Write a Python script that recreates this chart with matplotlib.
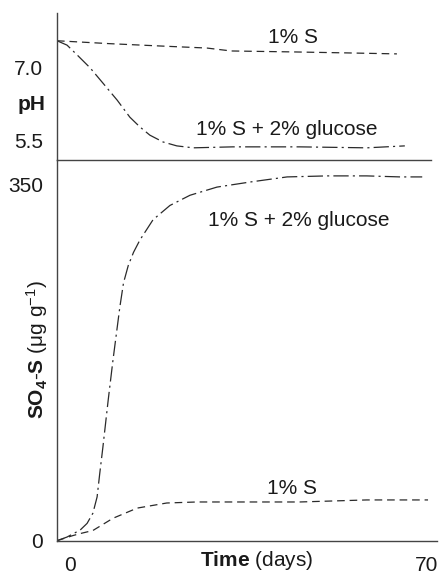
import matplotlib.pyplot as plt
import matplotlib.transforms as mtransforms

plt.rcParams['font.family'] = ['Liberation Sans', 'DejaVu Sans']
plt.rcParams['mathtext.fontset'] = 'custom'
plt.rcParams['mathtext.rm'] = 'Liberation Sans'
plt.rcParams['mathtext.bf'] = 'Liberation Sans:bold'
plt.rcParams['mathtext.it'] = 'Liberation Sans:italic'
plt.rcParams['lines.scale_dashes'] = False

# soil pH during incubation
ph_days_s = [0, 10, 20, 28.4, 33, 45, 55, 64.4]
ph_s = [7.54, 7.48, 7.43, 7.39, 7.33, 7.31, 7.29, 7.27]
ph_days_glc = [0, 1.9, 3.8, 6.3, 8.7, 11.4, 13.8, 15.7, 17.6, 20.1, 22.7, 25.8,
               33.3, 46, 58.7, 65.9]
ph_glc = [7.54, 7.45, 7.25, 6.98, 6.67, 6.32, 5.97, 5.77, 5.60, 5.46, 5.38, 5.34,
          5.36, 5.36, 5.34, 5.38]

# SO4-S released (ug/g)
so4_days_s = [0, 3.0, 4.4, 6.8, 10.6, 15.2, 20.8, 26.5, 46, 58.7, 70.3]
so4_s = [0, 5, 7, 10, 22, 32, 37, 38, 38, 40, 40]
so4_days_glc = [0, 1.9, 4.4, 5.7, 6.8, 7.6, 8.1, 8.7, 9.7, 10.6, 11.9, 12.6,
                13.5, 14.5, 15.7, 18.2, 21.4, 25.2, 30.3, 36.6, 43.6, 51.2, 58.7, 65, 69.2]
so4_glc = [0, 3.6, 10.5, 17, 27, 43, 66, 92, 138, 177, 229, 253,
           270, 283, 295, 315, 329, 339, 347, 352, 357, 358, 358, 357, 357]

LINE = '#2a2a2a'
SPINE = '#444444'
TXT = '#1a1a1a'
FS = 15
DASH = (0, (5.5, 3.5))
DASHDOT = (0, (11, 3, 1.5, 3))

fig = plt.figure(figsize=(4.4, 5.74), dpi=100)
ax_ph = fig.add_axes([57/440, 414/574, 374/440, 147/574])
ax_so4 = fig.add_axes([57/440, 33.3/574, 380/440, 380.7/574])

# pH panel
ax_ph.plot(ph_days_s, ph_s, color=LINE, lw=0.9, ls=DASH)
ax_ph.plot(ph_days_glc, ph_glc, color=LINE, lw=0.9, ls=DASHDOT)
ax_ph.set_xlim(0, 374/5.278)
ax_ph.set_ylim(5.09, 8.11)
ax_ph.set_xticks([])
ax_ph.set_yticks([5.5, 7.0])
ax_ph.set_yticklabels(['5.5', '7.0'])
ax_ph.text(44.7, 7.60, '1% S', fontsize=FS, color=TXT, ha='center', va='center')
ax_ph.text(43.5, 5.71, '1% S + 2% glucose', fontsize=FS, color=TXT, ha='center', va='center')
ax_ph.text(-12/374, 6.22, 'pH', fontsize=FS, fontweight='bold', color=TXT,
           ha='right', va='center', transform=ax_ph.get_yaxis_transform())

# SO4-S panel
ax_so4.plot(so4_days_s, so4_s, color=LINE, lw=0.9, ls=DASH)
ax_so4.plot(so4_days_glc, so4_glc, color=LINE, lw=0.9, ls=DASHDOT)
ax_so4.set_xlim(0, 72)
ax_so4.set_ylim(0, 373.6)
ax_so4.set_xticks([0, 70])
ax_so4.set_xticklabels(['0', '70'])
ax_so4.set_yticks([0, 350])
ax_so4.set_yticklabels(['0', '350'])
ax_so4.text(45.8, 314.7, '1% S + 2% glucose', fontsize=FS, color=TXT, ha='center', va='center')
ax_so4.text(44.5, 51.7, '1% S', fontsize=FS, color=TXT, ha='center', va='center')

for ax in (ax_ph, ax_so4):
    ax.set_facecolor('none')
    ax.spines['top'].set_visible(False)
    ax.spines['right'].set_visible(False)
    for s in ('left', 'bottom'):
        ax.spines[s].set_color(SPINE)
        ax.spines[s].set_linewidth(1.0)
    ax.tick_params(length=0, labelsize=FS, labelcolor=TXT, pad=10)
ax_so4.tick_params(axis='x', pad=11)

# nudge the x-axis "0" off the spine
shift = mtransforms.ScaledTranslation(13/100, 0, fig.dpi_scale_trans)
lab0 = ax_so4.get_xticklabels()[0]
lab0.set_transform(lab0.get_transform() + shift)

fig.text(37/440, 1 - 350/574, r'$\mathbf{SO_4}$-$\mathbf{S}$ ($\mathrm{\mu}$g g$^{-1}$)',
         rotation=90, ha='center', va='center', fontsize=FS, color=TXT)
fig.text(257/440, 1 - 561/574, r'$\mathbf{Time}$ (days)',
         ha='center', va='center', fontsize=FS, color=TXT)

fig.savefig('out.png', dpi=100)
